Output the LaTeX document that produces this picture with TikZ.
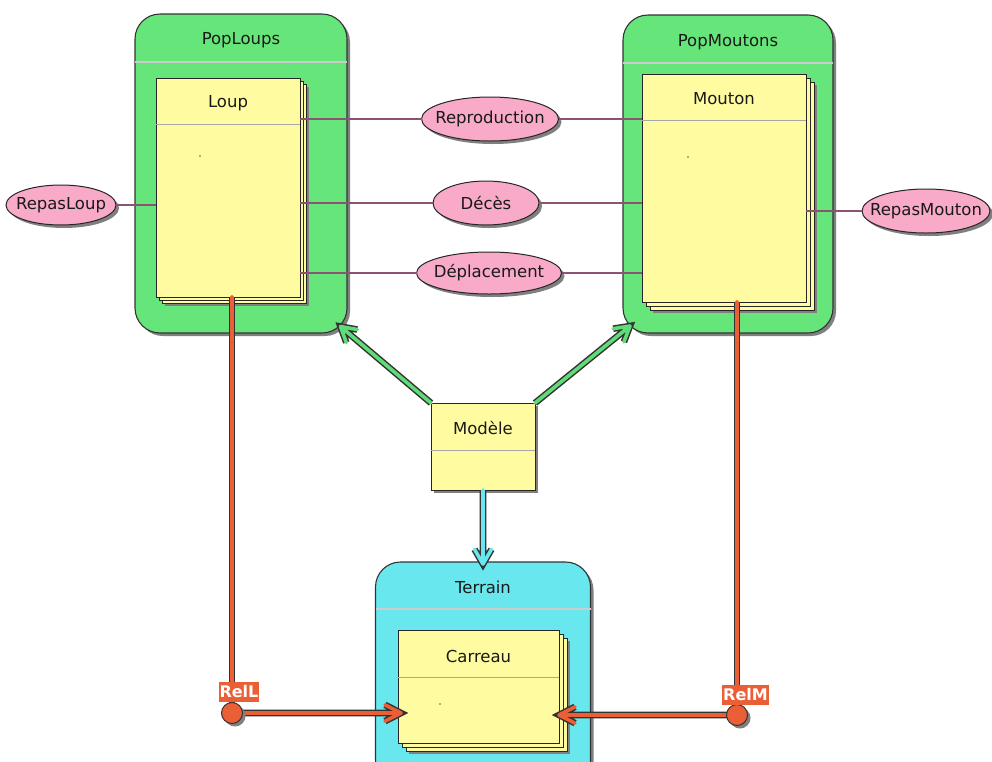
\documentclass[tikz,border=0pt]{standalone}
\usepackage{fontspec}
\setmainfont{DejaVu Sans}
\usetikzlibrary{calc,shadows,shapes.geometric}
\definecolor{popgreen}{HTML}{66E67A}
\definecolor{clsyellow}{HTML}{FFFBA0}
\definecolor{evpink}{HTML}{F8AAC8}
\definecolor{terrcyan}{HTML}{68E8EE}
\definecolor{relorange}{HTML}{EB5F37}
\definecolor{linkmauve}{HTML}{8A5470}
\definecolor{arrgreen}{HTML}{5FDC78}
\begin{document}
\begin{tikzpicture}[x=1pt,y=-1pt,
  every node/.style={font=\fontsize{16.5}{19}\selectfont, text=black!90},
  shad/.style={drop shadow={shadow xshift=3pt,shadow yshift=-3pt,fill=black!50,opacity=1}},
  container/.style={draw=black!80,line width=1.1pt,rounded corners=25pt,inner sep=0pt,outer sep=0pt,shad},
  sepline/.style={draw=white!80!black,line width=1.5pt},
  clssep/.style={draw=black!35,line width=0.8pt},
  classbox/.style={draw=black!85,line width=1pt,fill=clsyellow,inner sep=0pt,outer sep=0pt},
  ev/.style={ellipse,draw=black!85,line width=1pt,fill=evpink,inner sep=0pt,outer sep=0pt,shad},
  link/.style={draw=linkmauve,line width=2pt},
  fatbase/.style={line width=3.6pt,line cap=round,line join=round,preaction={draw=black!80,line width=6.6pt}},
  fatgreen/.style={fatbase,draw=arrgreen},
  fatcyan/.style={fatbase,draw=terrcyan},
  fatorange/.style={fatbase,draw=relorange},
  relcircle/.style={circle,draw=black!80,line width=1pt,fill=relorange,minimum size=21pt,inner sep=0pt,outer sep=0pt,shad},
  rellabel/.style={fill=relorange,text=white,inner xsep=1pt,inner ysep=3.5pt,text height=12pt,text depth=0.5pt,font=\fontsize{16}{18}\bfseries},
  tinydot/.style={fill=relorange!70!black}
]
\clip (0,0) rectangle (992,761);
\fill[white] (0,0) rectangle (992,761);

% ---- containers ----
\node[container,fill=popgreen,minimum width=212pt,minimum height=319pt] (pl) at (241,173.5) {};
\node (pltitle) at (241,40) {PopLoups};
\draw[sepline] ([yshift=-48pt]pl.north west) -- ([yshift=-48pt]pl.north east);

\node[container,fill=popgreen,minimum width=210pt,minimum height=318pt] (pm) at (728,174) {};
\node (pmtitle) at (728,42) {PopMoutons};
\draw[sepline] ([yshift=-48pt]pm.north west) -- ([yshift=-48pt]pm.north east);

\node[container,fill=terrcyan,minimum width=215pt,minimum height=223pt] (terrain) at (483,673.5) {};
\node (terraintitle) at (483,587) {Terrain};
\draw[sepline] ([yshift=-47pt]terrain.north west) -- ([yshift=-47pt]terrain.north east);

% ---- class stacks ----
\path[classbox,shad] (162,84) rectangle (306,303);
\path[classbox] (159,81) rectangle (303,300);
\node[classbox,minimum width=144pt,minimum height=219pt] (loup) at (228,187.5) {};
\node (louptitle) at (228,103) {Loup};
\draw[clssep] ([yshift=-46pt]loup.north west) -- ([yshift=-46pt]loup.north east);
\fill[tinydot] (200,156) circle (0.8pt);

\path[classbox,shad] (650,82) rectangle (814,310);
\path[classbox] (646,78) rectangle (810,306);
\node[classbox,minimum width=164pt,minimum height=228pt] (mouton) at (724,188) {};
\node (moutontitle) at (724,99) {Mouton};
\draw[clssep] ([yshift=-46pt]mouton.north west) -- ([yshift=-46pt]mouton.north east);
\fill[tinydot] (688,157) circle (0.8pt);

\path[classbox,shad] (406,638) rectangle (567,751);
\path[classbox] (402,634) rectangle (563,747);
\node[classbox,minimum width=161pt,minimum height=113pt] (carreau) at (478.5,686.5) {};
\node (carreautitle) at (478.5,656) {Carreau};
\draw[clssep] ([yshift=-47pt]carreau.north west) -- ([yshift=-47pt]carreau.north east);
\fill[tinydot] (440,704) circle (0.8pt);

\node[classbox,shad,minimum width=104pt,minimum height=87pt] (modele) at (483,446.5) {};
\node (modeletitle) at (483,428) {Modèle};
\draw[clssep] ([yshift=-47pt]modele.north west) -- ([yshift=-47pt]modele.north east);

% ---- events ----
\node[ev,minimum width=137pt,minimum height=44pt] (repro) at (490,119) {\makebox[0pt]{Reproduction}};
\node[ev,minimum width=106pt,minimum height=44pt] (deces) at (486,203) {\makebox[0pt]{Décès}};
\node[ev,minimum width=145pt,minimum height=42pt] (depl) at (489,273) {\makebox[0pt]{Déplacement}};
\node[ev,minimum width=110pt,minimum height=40pt] (repasloup) at (61,205) {\makebox[0pt]{RepasLoup}};
\node[ev,minimum width=128pt,minimum height=44pt] (repasmouton) at (926,211) {\makebox[0pt]{RepasMouton}};

\draw[link] (repro.west) -- (repro.west -| loup.east);
\draw[link] (repro.east) -- (repro.east -| mouton.west);
\draw[link] (deces.west) -- (deces.west -| loup.east);
\draw[link] (deces.east) -- (deces.east -| mouton.west);
\draw[link] (depl.west) -- (depl.west -| loup.east);
\draw[link] (depl.east) -- (depl.east -| mouton.west);
\draw[link] (repasloup.east) -- (repasloup.east -| loup.west);
\draw[link] (repasmouton.west) -- (repasmouton.west -| mouton.east);

% ---- fat arrows from Modele ----
\coordinate (pltip) at ($(pl.south east)+(-6.5,-6.5)$);
\coordinate (pmtip) at ($(pm.south west)+(7,-7)$);
\draw[fatgreen] (modele.north west) -- (pltip)
  ($(pltip)!17pt!30:(modele.north west)$) -- (pltip) -- ($(pltip)!17pt!-30:(modele.north west)$);
\draw[fatgreen] (modele.north east) -- (pmtip)
  ($(pmtip)!17pt!30:(modele.north east)$) -- (pmtip) -- ($(pmtip)!17pt!-30:(modele.north east)$);
\coordinate (ttip) at ([yshift=-2pt]terrain.north);
\draw[fatcyan] (modele.south) -- (ttip)
  ($(ttip)!17pt!30:(modele.south)$) -- (ttip) -- ($(ttip)!17pt!-30:(modele.south)$);

% ---- relations ----
\coordinate (rellc) at (232,713);
\coordinate (relmc) at (737,715);
\coordinate (ltip) at ([xshift=3pt]rellc -| carreau.west);
\coordinate (mtip) at (relmc -| carreau.east);
\draw[fatorange] (rellc |- loup.south) -- (rellc);
\draw[fatorange] (relmc |- mouton.south) -- (relmc);
\draw[fatorange] (rellc) -- (ltip)
  ($(ltip)!18pt!27:(rellc)$) -- (ltip) -- ($(ltip)!18pt!-27:(rellc)$);
\draw[fatorange] (relmc) -- (mtip)
  ($(mtip)!18pt!27:(relmc)$) -- (mtip) -- ($(mtip)!18pt!-27:(relmc)$);
\node[relcircle] (rell) at (rellc) {};
\node[relcircle] (relm) at (relmc) {};
\node[rellabel] (rellab) at (239,692) {RelL};
\node[rellabel] (relmlab) at (745.5,695) {RelM};
\end{tikzpicture}
\end{document}
